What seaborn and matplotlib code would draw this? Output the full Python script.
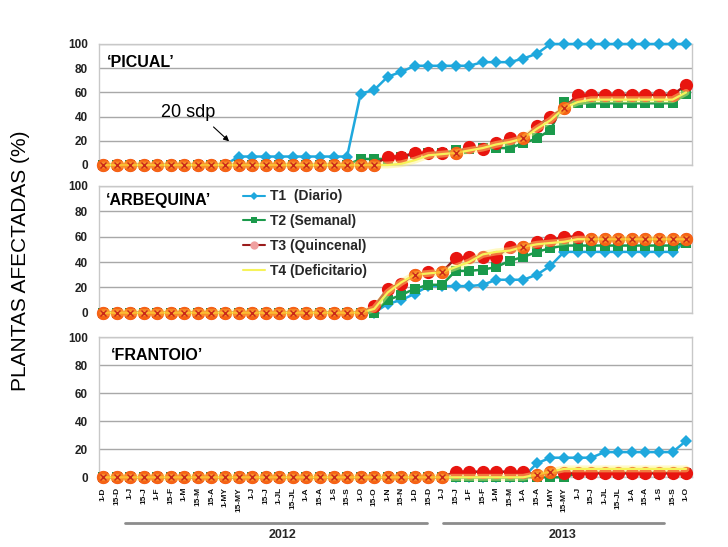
import matplotlib
matplotlib.use("Agg")
import matplotlib.pyplot as plt
from matplotlib.lines import Line2D
import numpy as np
import pandas as pd
import seaborn as sns

# ---------------- data ----------------
dates = ["1-D", "15-D", "1-J", "15-J", "1-F", "15-F", "1-M", "15-M", "15-A", "1-MY", "15-MY",
         "1-J", "15-J", "1-JL", "15-JL", "1-A", "15-A", "1-S", "15-S", "1-O", "15-O", "1-N", "15-N",
         "1-D", "15-D", "1-J", "15-J", "1-F", "15-F", "1-M", "15-M", "1-A", "15-A", "1-MY", "15-MY",
         "1-J", "15-J", "1-JL", "15-JL", "1-A", "15-A", "1-S", "15-S", "1-O"]

picual_t1 = [0, 0, 0, 0, 0, 0, 0, 0, 0, 0, 7, 7, 7, 7, 7, 7, 7, 7, 7, 59, 62, 73, 77,
             82, 82, 82, 82, 82, 85, 85, 85, 88, 92, 100, 100, 100, 100, 100, 100, 100, 100, 100, 100, 100]
picual_t2 = [0, 0, 0, 0, 0, 0, 0, 0, 0, 0, 0, 0, 0, 0, 0, 0, 0, 0, 0, 5, 5, 5, 7,
             9, 10, 10, 12, 13, 14, 14, 14, 18, 22, 29, 52, 51, 51, 51, 51, 51, 51, 51, 51, 59]
picual_t3 = [0, 0, 0, 0, 0, 0, 0, 0, 0, 0, 0, 0, 0, 0, 0, 0, 0, 0, 0, 0, 0, 7, 7,
             10, 10, 10, 10, 15, 13, 18, 22, 22, 32, 40, 47, 58, 58, 58, 58, 58, 58, 58, 58, 66]
picual_t4 = [0, 0, 0, 0, 0, 0, 0, 0, 0, 0, 0, 0, 0, 0, 0, 0, 0, 0, 0, 0, 0, 0, 1,
             4, 8, 9, 10, 12, 14, 17, 19, 22, 30, 37, 47, 52, 54, 54, 54, 54, 54, 54, 54, 60]

arbequina_t1 = [0, 0, 0, 0, 0, 0, 0, 0, 0, 0, 0, 0, 0, 0, 0, 0, 0, 0, 0, 0, 0, 7, 10,
                15, 21, 21, 21, 21, 22, 26, 26, 26, 30, 37, 48, 48, 48, 48, 48, 48, 48, 48, 48, 56]
arbequina_t2 = [0, 0, 0, 0, 0, 0, 0, 0, 0, 0, 0, 0, 0, 0, 0, 0, 0, 0, 0, 0, 0, 10, 14,
                19, 22, 22, 33, 33, 34, 36, 41, 44, 48, 51, 53, 53, 53, 53, 53, 53, 53, 53, 53, 55]
arbequina_t3 = [0, 0, 0, 0, 0, 0, 0, 0, 0, 0, 0, 0, 0, 0, 0, 0, 0, 0, 0, 0, 5, 19, 23,
                30, 32, 32, 43, 44, 44, 44, 52, 52, 56, 57, 60, 60, 58, 58, 58, 58, 58, 58, 58, 58]
arbequina_t4 = [0, 0, 0, 0, 0, 0, 0, 0, 0, 0, 0, 0, 0, 0, 0, 0, 0, 0, 0, 0, 3, 16, 24,
                30, 31, 32, 36, 40, 46, 48, 49, 52, 54, 55, 56, 58, 58, 58, 58, 58, 58, 58, 58, 58]

frantoio_t1 = [0, 0, 0, 0, 0, 0, 0, 0, 0, 0, 0, 0, 0, 0, 0, 0, 0, 0, 0, 0, 0, 0, 0,
               0, 0, 0, 0, 0, 0, 0, 0, 0, 10, 14, 14, 14, 14, 18, 18, 18, 18, 18, 18, 26]
frantoio_t2 = [0, 0, 0, 0, 0, 0, 0, 0, 0, 0, 0, 0, 0, 0, 0, 0, 0, 0, 0, 0, 0, 0, 0,
               0, 0, 0, 0, 0, 0, 0, 0, 0, 0, 0, 0, 3, 3, 3, 3, 3, 3, 3, 3, 3]
frantoio_t3 = [0, 0, 0, 0, 0, 0, 0, 0, 0, 0, 0, 0, 0, 0, 0, 0, 0, 0, 0, 0, 0, 0, 0,
               0, 0, 0, 4, 4, 4, 4, 4, 4, 2, 4, 3, 3, 3, 3, 3, 3, 3, 3, 3, 3]
frantoio_t4 = [0, 0, 0, 0, 0, 0, 0, 0, 0, 0, 0, 0, 0, 0, 0, 0, 0, 0, 0, 0, 0, 0, 0,
               0, 0, 0, 0, 0, 0, 0, 0, 0, 2, 4, 6, 6, 6, 6, 6, 6, 6, 6, 6, 6]

panel_names = ["\u2018PICUAL\u2019", "\u2018ARBEQUINA\u2019", "\u2018FRANTOIO\u2019"]
series_labels = ["T1  (Diario)", "T2 (Semanal)", "T3 (Quincenal)", "T4 (Deficitario)"]
years = ["2012", "2013"]
yticks = [0, 20, 40, 60, 80, 100]

panels = [
    [picual_t1, picual_t2, picual_t3, picual_t4],
    [arbequina_t1, arbequina_t2, arbequina_t3, arbequina_t4],
    [frantoio_t1, frantoio_t2, frantoio_t3, frantoio_t4],
]

# ---------------- style ----------------
sns.set_theme(style="white")
plt.rcParams["font.family"] = ["Liberation Sans", "DejaVu Sans"]

W, H = 728, 547
fig = plt.figure(figsize=(W / 100, H / 100), dpi=100)
fig.patch.set_facecolor("white")

c_blue = "#1fa8dd"
c_green = "#1b9a4b"
c_red = "#e8150f"
c_redline = "#9b1c1c"
c_yellow = "#f6f35a"

styles = [
    dict(color=c_blue, marker="D", markersize=6.5, markerfacecolor=c_blue,
         markeredgecolor=c_blue, markeredgewidth=0, linewidth=1.8),
    dict(color=c_green, marker="s", markersize=6.5, markerfacecolor=c_green,
         markeredgecolor=c_green, markeredgewidth=0, linewidth=1.8),
    dict(color=c_redline, marker="o", markersize=9.5, markerfacecolor=c_red,
         markeredgecolor=c_red, markeredgewidth=0, linewidth=1.8),
]

# axes rectangles in pixels: (top y, bottom y)
rects = [(44, 165), (186, 312.7), (337.3, 477.3)]
left_px, right_px = 99, 692
first_px, step_px = 103, 13.56
x_idx = np.arange(len(dates))
xlo = -(first_px - left_px) / step_px
xhi = (len(dates) - 1) + (right_px - (first_px + step_px * (len(dates) - 1))) / step_px

axes = []
for k, (ytop, ybot) in enumerate(rects):
    ax = fig.add_axes([left_px / W, 1 - ybot / H, (right_px - left_px) / W, (ybot - ytop) / H])
    axes.append(ax)
    for s in range(3):
        df = pd.DataFrame({"x": x_idx, "y": panels[k][s]})
        sns.lineplot(data=df, x="x", y="y", ax=ax, clip_on=False, zorder=3 + s, **styles[s])
    # T4: yellow line with soft glow; points coinciding with T3 take an orange look
    t3 = np.array(panels[k][2])
    t4 = np.array(panels[k][3])
    df4 = pd.DataFrame({"x": x_idx, "y": t4})
    sns.lineplot(data=df4, x="x", y="y", ax=ax, clip_on=False, zorder=6,
                 color="#fff27a", alpha=0.45, linewidth=5)
    sns.lineplot(data=df4, x="x", y="y", ax=ax, clip_on=False, zorder=7,
                 color=c_yellow, linewidth=1.6)
    same = [int(i) for i in np.where(t3 == t4)[0]]
    if same:
        sns.lineplot(data=df4, x="x", y="y", ax=ax, clip_on=False, zorder=8,
                     linestyle="", marker="o", markersize=9.5, markevery=same,
                     markerfacecolor=(1.0, 0.6, 0.1, 0.6), markeredgewidth=0,
                     markeredgecolor=(1, 1, 1, 0))
        sns.lineplot(data=df4, x="x", y="y", ax=ax, clip_on=False, zorder=9,
                     linestyle="", marker="x", markersize=4.0, markevery=same,
                     markeredgecolor="#c8281a", markeredgewidth=1.0)
    ax.set_xlim(xlo, xhi)
    ax.set_ylim(0, 100)
    ax.set_yticks(yticks)
    ax.set_yticklabels([str(t) for t in yticks], fontsize=8.5, fontweight="bold", color="#222222")
    ax.yaxis.grid(True, color="#a8a8a8", linewidth=1.0)
    ax.xaxis.grid(False)
    ax.set_axisbelow(True)
    for sp in ax.spines.values():
        sp.set_color("#c8c8c8")
        sp.set_linewidth(1.0)
    ax.tick_params(axis="y", length=0, pad=8)
    ax.tick_params(axis="x", length=0)
    ax.set_xlabel("")
    ax.set_ylabel("")
    ax.set_xticks(x_idx)
    if k < 2:
        ax.set_xticklabels([])
    else:
        ax.set_xticklabels(dates, rotation=90, fontsize=6, fontweight="bold", color="#111111")
        ax.tick_params(axis="x", pad=7)

# panel titles
title_pos = [(107, 62.7), (106, 200.7), (111, 355)]
for k, (tx, ty) in enumerate(title_pos):
    ytop, ybot = rects[k]
    axes[k].text((tx - left_px) / (right_px - left_px), (ybot - ty) / (ybot - ytop), panel_names[k],
                 transform=axes[k].transAxes, fontsize=11.5, fontweight="bold",
                 ha="left", va="center", color="black", zorder=10)

# annotation "20 sdp"
axes[0].text(6.3, 43, "20 sdp", fontsize=13, ha="center", va="center", color="black", zorder=10)
axes[0].annotate("", xy=(9.45, 18), xytext=(8.0, 33),
                 arrowprops=dict(arrowstyle="-|>", color="black", lw=0.8, mutation_scale=8),
                 zorder=10)

# legend in middle panel
handles = [Line2D([0], [0], color=c_blue, marker="D", markersize=4,
                  markerfacecolor=c_blue, markeredgewidth=0, linewidth=1.5),
           Line2D([0], [0], color=c_green, marker="s", markersize=5,
                  markerfacecolor=c_green, markeredgewidth=0, linewidth=1.5),
           Line2D([0], [0], color=c_redline, marker="o", markersize=6,
                  markerfacecolor="#f0a0a0", markeredgewidth=0, linewidth=1.5),
           Line2D([0], [0], color=c_yellow, linewidth=1.5)]
ytop, ybot = rects[1]
leg = axes[1].legend(handles, series_labels, loc="upper left",
                     bbox_to_anchor=((243 - left_px) / (right_px - left_px), (ybot - 189.5) / (ybot - ytop)),
                     frameon=False, borderaxespad=0, borderpad=0, handlelength=1.6,
                     handletextpad=0.35, labelspacing=0.78,
                     prop=dict(family=["Liberation Sans", "DejaVu Sans"], weight="bold", size=10))
leg.set_zorder(20)

# year brackets under bottom panel
axb = axes[2]
ytop, ybot = rects[2]
yl = (ybot - 523) / (ybot - ytop)
yt = (ybot - 535) / (ybot - ytop)
trans = axb.get_xaxis_transform()
axb.plot([1.6, 23.9], [yl, yl], transform=trans, color="#8c8c8c", lw=2, clip_on=False)
axb.plot([25.1, 41.4], [yl, yl], transform=trans, color="#8c8c8c", lw=2, clip_on=False)
axb.text(13.25, yt, years[0], transform=trans, ha="center", va="center",
         fontsize=9, fontweight="bold")
axb.text(33.9, yt, years[1], transform=trans, ha="center", va="center",
         fontsize=9, fontweight="bold")

# y label
fig.text(21 / W, 1 - 261 / H, "PLANTAS AFECTADAS (%)", rotation=90, ha="center", va="center",
         fontsize=15, color="black")

fig.savefig("out.png", dpi=100, facecolor="white")
